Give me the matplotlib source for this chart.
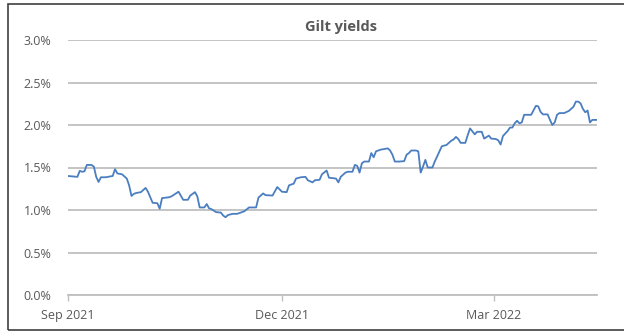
import matplotlib
matplotlib.use("Agg")
import matplotlib.pyplot as plt
import matplotlib.dates as mdates
from matplotlib.patches import Rectangle
from matplotlib.ticker import FuncFormatter
import pandas as pd

# 10-year gilt yield, % (daily)
dates = [
    "2021-09-01", "2021-09-05", "2021-09-06", "2021-09-07", "2021-09-08", "2021-09-09",
    "2021-09-11", "2021-09-12", "2021-09-13", "2021-09-14", "2021-09-15", "2021-09-17",
    "2021-09-20", "2021-09-21", "2021-09-22", "2021-09-24", "2021-09-26", "2021-09-27",
    "2021-09-28", "2021-09-29", "2021-09-30", "2021-10-02", "2021-10-04", "2021-10-05",
    "2021-10-07", "2021-10-09", "2021-10-10", "2021-10-11", "2021-10-14", "2021-10-15",
    "2021-10-18", "2021-10-20", "2021-10-22", "2021-10-23", "2021-10-25", "2021-10-26",
    "2021-10-27", "2021-10-29", "2021-10-30", "2021-10-31", "2021-11-01", "2021-11-03",
    "2021-11-05", "2021-11-06", "2021-11-07", "2021-11-08", "2021-11-10", "2021-11-12",
    "2021-11-15", "2021-11-17", "2021-11-20", "2021-11-21", "2021-11-23", "2021-11-24",
    "2021-11-27", "2021-11-29", "2021-12-01", "2021-12-03", "2021-12-04", "2021-12-06",
    "2021-12-07", "2021-12-09", "2021-12-11", "2021-12-12", "2021-12-14", "2021-12-15",
    "2021-12-17", "2021-12-18", "2021-12-20", "2021-12-21", "2021-12-24", "2021-12-25",
    "2021-12-26", "2021-12-28", "2021-12-29", "2021-12-31", "2022-01-01", "2022-01-02",
    "2022-01-03", "2022-01-04", "2022-01-05", "2022-01-07", "2022-01-08", "2022-01-09",
    "2022-01-10", "2022-01-12", "2022-01-13", "2022-01-15", "2022-01-16", "2022-01-17",
    "2022-01-18", "2022-01-20", "2022-01-22", "2022-01-23", "2022-01-24", "2022-01-25",
    "2022-01-27", "2022-01-28", "2022-01-29", "2022-01-30", "2022-01-31", "2022-02-01",
    "2022-02-03", "2022-02-04", "2022-02-06", "2022-02-07", "2022-02-09", "2022-02-11",
    "2022-02-12", "2022-02-13", "2022-02-14", "2022-02-15", "2022-02-17", "2022-02-18",
    "2022-02-19", "2022-02-21", "2022-02-22", "2022-02-24", "2022-02-25", "2022-02-27",
    "2022-02-28", "2022-03-02", "2022-03-03", "2022-03-04", "2022-03-05", "2022-03-07",
    "2022-03-08", "2022-03-09", "2022-03-10", "2022-03-11", "2022-03-12", "2022-03-13",
    "2022-03-14", "2022-03-17", "2022-03-19", "2022-03-20", "2022-03-21", "2022-03-22",
    "2022-03-24", "2022-03-25", "2022-03-26", "2022-03-27", "2022-03-28", "2022-03-29",
    "2022-03-31", "2022-04-02", "2022-04-04", "2022-04-05", "2022-04-06", "2022-04-07",
    "2022-04-08", "2022-04-09", "2022-04-10", "2022-04-11", "2022-04-12", "2022-04-13",
    "2022-04-14",
]
yields = [
    1.40, 1.39, 1.46, 1.45, 1.455, 1.53,
    1.53, 1.51, 1.39, 1.33, 1.385, 1.385,
    1.40, 1.48, 1.43, 1.42, 1.37, 1.29,
    1.165, 1.19, 1.20, 1.21, 1.26, 1.215,
    1.085, 1.08, 1.015, 1.14, 1.15, 1.16,
    1.215, 1.12, 1.12, 1.17, 1.21, 1.16,
    1.03, 1.03, 1.07, 1.02, 1.01, 0.975,
    0.97, 0.935, 0.915, 0.94, 0.955, 0.955,
    0.985, 1.03, 1.03, 1.145, 1.195, 1.175,
    1.17, 1.27, 1.215, 1.21, 1.29, 1.31,
    1.37, 1.385, 1.39, 1.35, 1.325, 1.35,
    1.355, 1.42, 1.465, 1.38, 1.37, 1.325,
    1.39, 1.44, 1.45, 1.45, 1.53, 1.52,
    1.44, 1.55, 1.57, 1.57, 1.67, 1.62,
    1.69, 1.71, 1.715, 1.725, 1.70, 1.65,
    1.57, 1.57, 1.575, 1.65, 1.67, 1.70,
    1.70, 1.69, 1.44, 1.51, 1.59, 1.50,
    1.50, 1.57, 1.69, 1.75, 1.765, 1.815,
    1.83, 1.86, 1.835, 1.79, 1.79, 1.88,
    1.96, 1.89, 1.92, 1.92, 1.84, 1.875,
    1.84, 1.835, 1.82, 1.77, 1.87, 1.93,
    1.97, 1.97, 2.02, 2.05, 2.02, 2.03,
    2.12, 2.12, 2.225, 2.22, 2.155, 2.125,
    2.125, 2.06, 2.00, 2.03, 2.12, 2.14,
    2.14, 2.165, 2.215, 2.275, 2.275, 2.255,
    2.19, 2.15, 2.17, 2.03, 2.06, 2.06,
    2.06,
]
tick_dates = ["2021-09-01", "2021-12-01", "2022-03-01"]
y_ticks = [0.0, 0.5, 1.0, 1.5, 2.0, 2.5, 3.0]

x = pd.to_datetime(dates)
grey_text = "#595959"
grid_col = "#BFBFBF"

plt.rcParams["font.family"] = ["Open Sans", "DejaVu Sans"]

fig = plt.figure(figsize=(6.24, 3.31), dpi=100)
ax = fig.add_axes([68 / 624, 1 - 295 / 331, (597 - 68) / 624, (295 - 40) / 331])

ax.plot(x, yields, color="#4A7EC0", lw=1.3, solid_joinstyle="round")

ax.set_xlim(pd.Timestamp("2021-09-01"), pd.Timestamp("2022-04-14"))
ax.set_ylim(0, 3.0)
ax.set_yticks(y_ticks)
ax.yaxis.set_major_formatter(FuncFormatter(lambda v, _: f"{v:.1f}%"))
ax.set_xticks(pd.to_datetime(tick_dates))
ax.xaxis.set_major_formatter(mdates.DateFormatter("%b %Y"))

ax.grid(axis="y", color=grid_col, lw=1.3)
ax.set_axisbelow(True)
for side in ["top", "right", "left"]:
    ax.spines[side].set_visible(False)
ax.spines["bottom"].set_color(grid_col)
ax.spines["bottom"].set_linewidth(1.3)
ax.tick_params(axis="y", length=0, pad=12, labelsize=9, labelcolor=grey_text)
ax.tick_params(axis="x", direction="out", length=4, width=1, color=grid_col,
               pad=6, labelsize=9, labelcolor=grey_text)

fig.text(341 / 624, 1 - 27 / 331, "Gilt yields", ha="center", va="center",
         fontsize=10.5, fontweight="bold", color=grey_text)

# outer frame of the chart
fig.add_artist(Rectangle((8 / 624, 1 - 330 / 331), 1.0, (330 - 4) / 331,
                         transform=fig.transFigure, fill=False,
                         edgecolor="#404040", lw=1.2))

fig.savefig("out.png", dpi=100)
